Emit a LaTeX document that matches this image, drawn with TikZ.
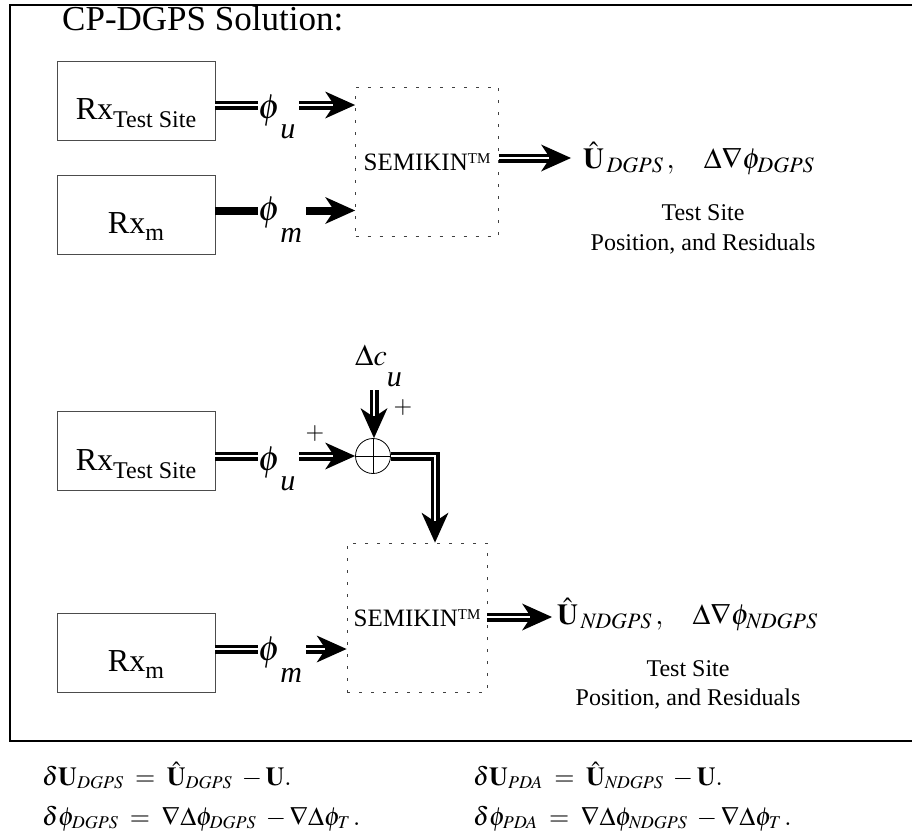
\documentclass[tikz,border=0pt]{standalone}
\usepackage{mathptmx}
\usepackage{fontspec}
\setmainfont{Liberation Serif}
\usetikzlibrary{arrows.meta,calc}
\DeclareMathSizes{24}{24}{17}{12}
\DeclareMathSizes{29}{29}{22}{15}
\DeclareMathSizes{26}{26}{18}{13}
\DeclareMathSizes{30}{30}{21}{15}
\DeclareMathSizes{35}{35}{25}{18}
\tikzset{
  frame/.style={line width=2pt},
  rxbox/.style={draw=black!70, line width=0.8pt, minimum width=158pt, minimum height=79pt,
    text height=42pt, text depth=4pt, inner sep=0pt, font=\fontsize{32}{32}\selectfont},
  semibox/.style={draw=black!75, line width=0.8pt, dash pattern=on 3pt off 9pt,
    minimum width=143pt, minimum height=149pt, text height=20pt, text depth=3pt, inner sep=0pt,
    font=\fontsize{25}{25}\selectfont},
  fat/.style={line width=9pt},
  solid fat/.style={line width=8pt},
  gapl/.style={draw=white, line width=1.4pt},
  tip/.style={-{Stealth[length=30pt,width=27pt,inset=9pt,line width=0pt]}},
  philab/.style={anchor=base west, inner sep=0pt, font=\fontsize{30}{30}\selectfont},
  outlab/.style={anchor=base west, inner sep=0pt, font=\fontsize{29}{29}\selectfont},
  caplab/.style={anchor=base, inner sep=0pt, font=\fontsize{24}{24}\selectfont},
  formula/.style={anchor=base west, inner sep=0pt, font=\fontsize{26}{26}\selectfont},
  plus/.style={inner sep=0pt, font=\fontsize{24}{24}\selectfont},
  sumnode/.style={circle, draw, line width=0.8pt, minimum size=35pt, inner sep=0pt}
}
\newcommand{\fatarrow}[2]{%
  \draw[fat,tip] #1 -- #2;
  \draw[gapl, shorten >=22pt] #1 -- #2;}
\newcommand{\fatline}[2]{%
  \draw[fat] #1 -- #2;
  \draw[gapl] #1 -- #2;}
\newcommand{\semik}{SEMIKIN\raisebox{7pt}{\fontsize{15}{15}\selectfont TM}}
\newcommand{\bigphi}{{\fontsize{35}{35}\selectfont$\phi$}}
\begin{document}
\begin{tikzpicture}[x=1pt,y=-1pt]
\useasboundingbox (0,0) rectangle (912,838);
% frame
\draw[frame] (912,5) -- (10,5) -- (10,741) -- (912,741);
\node[anchor=base west, inner sep=0pt, font=\fontsize{35}{35}\selectfont] (title) at (62,30) {CP-DGPS Solution:};

% ---------- upper diagram ----------
\node[rxbox] (b1) at (136,100.5) {Rx\raisebox{-8pt}{\fontsize{24}{24}\selectfont Test Site}};
\node[rxbox] (b2) at (136,214.5) {Rx\raisebox{-7pt}{\fontsize{24}{24}\selectfont m}};
\node[semibox] (s1) at (427,161.5) {\semik};

\node[philab] (p1) at (258,118) {\bigphi\raisebox{-20pt}{\itshape u}};
\node[philab] (p2) at (258,220) {\bigphi\raisebox{-22pt}{\itshape m}};

\coordinate (l1) at (258,105);
\coordinate (a1) at (299,105);
\fatline{(b1.east |- l1)}{(l1)}
\fatarrow{(a1)}{(s1.west |- a1)}

\coordinate (l2) at (258,210.5);
\coordinate (a2) at (306,210.5);
\draw[solid fat] (b2.east |- l2) -- (l2);
\draw[solid fat,tip] (a2) -- (s1.west |- a2);

\coordinate (o1) at (571,158);
\fatarrow{(s1.east |- o1)}{(o1)}
\node[outlab] (r1) at (583,168) {$\hat{\mathbf{U}}_{\,\mathit{DGPS}}\,,\hspace{26pt}\Delta\nabla\phi_{\mathit{DGPS}}$};
\node[caplab] (t1) at (703,220) {Test Site};
\node[caplab] (q1) at (703,250) {Position, and Residuals};

% ---------- lower diagram ----------
\node[rxbox] (b3) at (136,451) {Rx\raisebox{-8pt}{\fontsize{24}{24}\selectfont Test Site}};
\node[rxbox] (b4) at (136,652.5) {Rx\raisebox{-7pt}{\fontsize{24}{24}\selectfont m}};
\node[semibox, minimum width=140pt] (s2) at (417,617.5) {\semik};

\node[philab] (p3) at (258,470) {\bigphi\raisebox{-20pt}{\itshape u}};
\node[philab] (p4) at (258,660) {\bigphi\raisebox{-22pt}{\itshape m}};

\node[sumnode] (sum) at (373,456) {};
\draw[line width=0.8pt] (sum.north) -- (sum.south) (sum.west) -- (sum.east);

\coordinate (l3) at (258,456);
\coordinate (a3) at (299,456);
\fatline{(b3.east |- l3)}{(l3)}
\fatarrow{(a3)}{(sum.west)}

\node[philab] (dc) at (355,365) {$\Delta c$\raisebox{-21pt}{\itshape u}};
\coordinate (d0) at (374,390);
\fatarrow{(d0)}{(d0 |- sum.north)}
\node[plus] (pl1) at (403,407) {$+$};
\node[plus] (pl2) at (315,433) {$+$};

\coordinate (k1) at (435,456);
\draw[fat,tip,line join=miter] (sum.east) -- (k1) -- (k1 |- s2.north);
\draw[gapl,line join=miter,shorten >=22pt] (sum.east) -- (k1) -- (k1 |- s2.north);

\coordinate (l4) at (258,649);
\coordinate (a4) at (306,649);
\fatline{(b4.east |- l4)}{(l4)}
\fatarrow{(a4)}{(s2.west |- a4)}

\coordinate (o2) at (552,617);
\fatarrow{(s2.east |- o2)}{(o2)}
\node[outlab] (r2) at (557,624) {$\hat{\mathbf{U}}_{\,\mathit{NDGPS}}\,,\hspace{26pt}\Delta\nabla\phi_{\mathit{NDGPS}}$};
\node[caplab] (t2) at (688,676) {Test Site};
\node[caplab] (q2) at (688,705) {Position, and Residuals};

% ---------- formulas ----------
\node[formula] (f1) at (42,785) {$\delta\mathbf{U}_{\mathit{DGPS}}\;=\;\hat{\mathbf{U}}_{\mathit{DGPS}}\;-\mathbf{U}.$};
\node[formula] (f2) at (42,825) {$\delta\phi_{\mathit{DGPS}}\;=\;\nabla\Delta\phi_{\mathit{DGPS}}\;-\nabla\Delta\phi_{T}\,.$};
\node[formula] (f3) at (473,785) {$\delta\mathbf{U}_{\mathit{PDA}}\;=\;\hat{\mathbf{U}}_{\mathit{NDGPS}}\;-\mathbf{U}.$};
\node[formula] (f4) at (473,825) {$\delta\phi_{\mathit{PDA}}\;=\;\nabla\Delta\phi_{\mathit{NDGPS}}\;-\nabla\Delta\phi_{T}\,.$};
\end{tikzpicture}
\end{document}
